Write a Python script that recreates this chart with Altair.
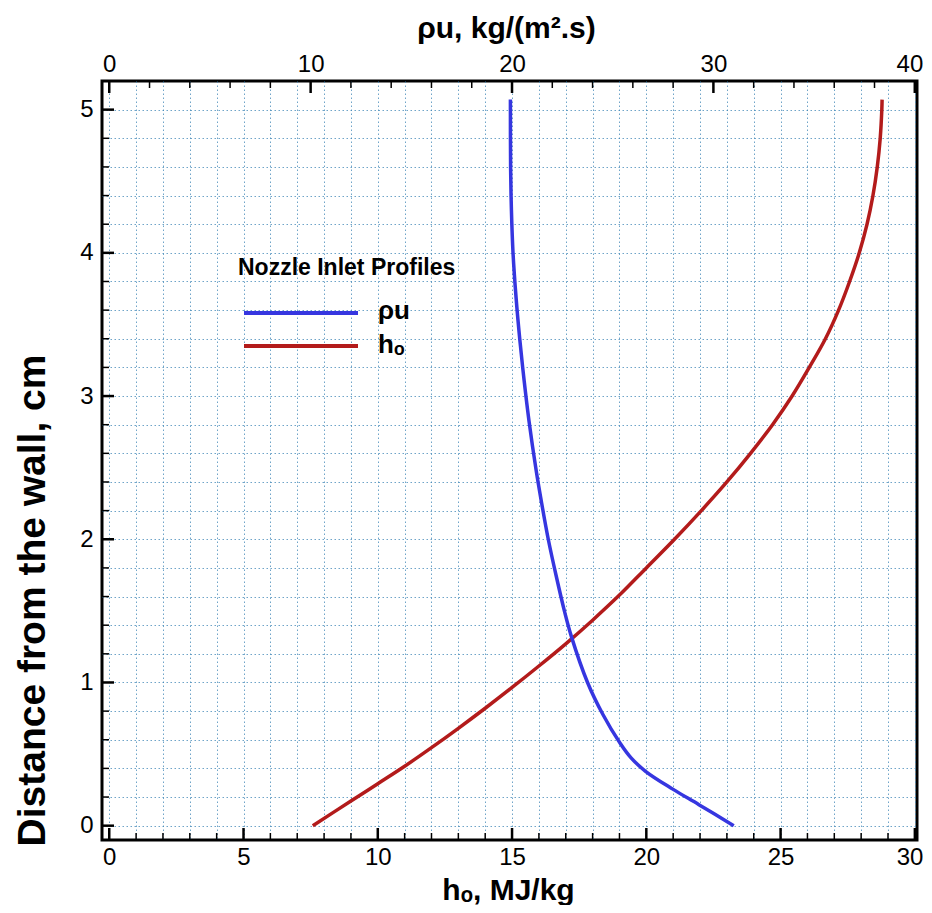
import altair as alt
import pandas as pd

# ---------------- data ----------------
# total enthalpy h_o [MJ/kg] vs distance from the wall [cm]  (bottom axis)
ho_y = [0.0, 0.172, 0.293, 0.415, 0.545, 0.68, 0.82, 0.965, 1.115, 1.27, 1.435, 1.61, 1.80,
        2.0, 2.2, 2.4, 2.6, 2.8, 3.0, 3.2, 3.4, 3.6, 3.8, 4.0, 4.2, 4.4, 4.6, 4.8, 5.0, 5.07]
ho_val = [7.58, 9.0, 10.0, 11.0, 12.0, 13.0, 14.0, 15.0, 16.0, 17.0, 18.0, 19.0, 20.0,
          21.05, 22.05, 23.0, 23.88, 24.7, 25.43, 26.07, 26.67, 27.16, 27.57, 27.93,
          28.22, 28.44, 28.6, 28.71, 28.77, 28.78]

# mass flux rho*u [kg/(m^2.s)] vs distance from the wall [cm]  (top axis)
rhou_y = [0.0, 0.147, 0.257, 0.38, 0.475, 0.575, 0.78, 1.0, 1.32, 1.5, 1.74, 2.0, 2.27,
          2.48, 2.83, 3.11, 3.39, 3.69, 4.0, 4.3, 4.59, 5.07]
rhou_val = [31.01, 29.28, 27.96, 26.63, 25.9, 25.37, 24.5, 23.75, 22.95, 22.6, 22.2, 21.8,
            21.45, 21.2, 20.84, 20.6, 20.39, 20.2, 20.05, 19.97, 19.93, 19.92]

series_names = ["\u03c1u", "h\u2092"]
series_colors = ["#3636e0", "#b31b1b"]
legend_title = "Nozzle Inlet Profiles"

# tick positions
bottom_major = [0, 5, 10, 15, 20, 25, 30]
bottom_all = list(range(0, 31))
bottom_minor = [v for v in bottom_all if v not in bottom_major]
top_major = [0, 10, 20, 30, 40]
top_minor = [2, 4, 6, 8, 12, 14, 16, 18, 22, 24, 26, 28, 32, 34, 36, 38]
left_all = [round(i * 0.2, 1) for i in range(26)]
left_major = [0, 1, 2, 3, 4, 5]
left_minor = [v for v in left_all if abs(v - round(v)) > 1e-9]

# ---------------- layout ----------------
W, H = 815, 759
FONT = "Liberation Sans, Arial, Helvetica, sans-serif"
GRID = dict(grid=True, gridColor="#3f86b5", gridOpacity=0.75, gridDash=[1.5, 2.5], gridWidth=1)

df_ho = pd.DataFrame({"h": ho_val, "y": ho_y, "s": series_names[1]})
df_ru = pd.DataFrame({"r": rhou_val, "y": rhou_y, "s": series_names[0]})

h_scale = alt.Scale(domain=[-0.27, 30.08], nice=False, zero=False)
r_scale = alt.Scale(domain=[-0.36, 40.11], nice=False, zero=False)
y_scale = alt.Scale(domain=[-0.1, 5.2], nice=False, zero=False)

ax_bottom = alt.Axis(orient="bottom", values=bottom_all, ticks=False, tickSize=0, domain=False,
                     labelExpr="datum.value % 5 == 0 ? format(datum.value, 'd') : ''",
                     labelOverlap=False, labelPadding=5, labelFontSize=24,
                     labelFlush=5, labelFlushOffset=8,
                     title="h\u2092, MJ/kg", titleX=406, titleY=50, titleAlign="center",
                     titleBaseline="middle", titleFontSize=30, **GRID)
ax_top = alt.Axis(orient="top", values=top_major, ticks=False, tickSize=0, domain=False,
                  format="d", labelPadding=5, labelFontSize=24, grid=False,
                  labelFlush=5, labelFlushOffset=8,
                  title="\u03c1u, kg/(m\u00b2.s)", titleX=404, titleY=-53, titleAlign="center",
                  titleBaseline="middle", titleFontSize=30)
ax_left = alt.Axis(orient="left", values=left_all, ticks=False, tickSize=0, domain=False,
                   labelExpr="abs(datum.value - round(datum.value)) < 0.001 ? format(datum.value, 'd') : ''",
                   labelOverlap=False, labelPadding=9, labelFontSize=24,
                   title="Distance from the wall, cm", titleX=-70, titleY=519, titleAlign="center",
                   titleBaseline="middle", titleAngle=270, titleFontSize=39, **GRID)

color_scale = alt.Scale(domain=series_names, range=series_colors)

red_line = alt.Chart(df_ho).mark_line(strokeWidth=3.5, interpolate="catmull-rom").encode(
    x=alt.X("h:Q", scale=h_scale, axis=ax_bottom),
    y=alt.Y("y:Q", scale=y_scale, axis=ax_left),
    order="y:Q",
    color=alt.Color("s:N", scale=color_scale, legend=None),
)
blue_line = alt.Chart(df_ru).mark_line(strokeWidth=3.5, interpolate="catmull-rom").encode(
    x=alt.X("r:Q", scale=r_scale, axis=ax_top),
    y=alt.Y("y:Q", scale=y_scale, axis=ax_left),
    order="y:Q",
    color=alt.Color("s:N", scale=color_scale, legend=None),
)


def xticks(values, field_scale, axis, length, top, width):
    d = pd.DataFrame({"v": values})
    if top:
        yy, yy2 = alt.value(0), alt.value(length)
    else:
        yy, yy2 = alt.value(H), alt.value(H - length)
    return alt.Chart(d).mark_rule(color="black", strokeWidth=width).encode(
        x=alt.X("v:Q", scale=field_scale, axis=axis), y=yy, y2=yy2)


def yticks(values, length, width):
    d = pd.DataFrame({"v": values})
    return alt.Chart(d).mark_rule(color="black", strokeWidth=width).encode(
        y=alt.Y("v:Q", scale=y_scale, axis=ax_left), x=alt.value(0), x2=alt.value(length))


bottom_group = alt.layer(
    red_line,
    xticks(bottom_major, h_scale, ax_bottom, 12, False, 2.5),
    xticks(bottom_minor, h_scale, ax_bottom, 7, False, 1.5),
)
top_group = alt.layer(
    blue_line,
    xticks(top_major, r_scale, ax_top, 12, True, 2.5),
    xticks(top_minor, r_scale, ax_top, 7, True, 1.5),
)
left_group = alt.layer(yticks(left_major, 12, 2.5), yticks(left_minor, 7, 1.5))

# ---------------- manual legend ----------------
one = pd.DataFrame({"k": [0]})
leg_title = alt.Chart(one).mark_text(align="left", baseline="middle", font=FONT,
                                     fontWeight="bold", fontSize=23, color="black").encode(
    x=alt.value(136), y=alt.value(187), text=alt.value(legend_title))
leg_blue = alt.Chart(one).mark_rule(color=series_colors[0], strokeWidth=4).encode(
    x=alt.value(142), x2=alt.value(256), y=alt.value(232))
leg_red = alt.Chart(one).mark_rule(color=series_colors[1], strokeWidth=4).encode(
    x=alt.value(142), x2=alt.value(256), y=alt.value(265))
leg_lab1 = alt.Chart(one).mark_text(align="left", baseline="middle", font=FONT,
                                    fontWeight="bold", fontSize=26, color="black").encode(
    x=alt.value(276), y=alt.value(230), text=alt.value(series_names[0]))
leg_lab2 = alt.Chart(one).mark_text(align="left", baseline="middle", font=FONT,
                                    fontWeight="bold", fontSize=26, color="black").encode(
    x=alt.value(276), y=alt.value(264), text=alt.value(series_names[1]))

chart = alt.layer(
    bottom_group, top_group, left_group,
    leg_title, leg_blue, leg_red, leg_lab1, leg_lab2,
).resolve_scale(x="independent").properties(
    width=W, height=H,
    autosize=alt.AutoSizeParams(type="none"),
    padding={"left": 94, "top": 73, "right": 6, "bottom": 65},
    background="white",
).configure_view(stroke="black", strokeWidth=3).configure_axis(
    labelFont=FONT, titleFont=FONT, labelColor="black", titleColor="black",
    titleFontWeight="bold",
)

chart.save("out.html", embed_options={"renderer": "svg", "actions": False})
